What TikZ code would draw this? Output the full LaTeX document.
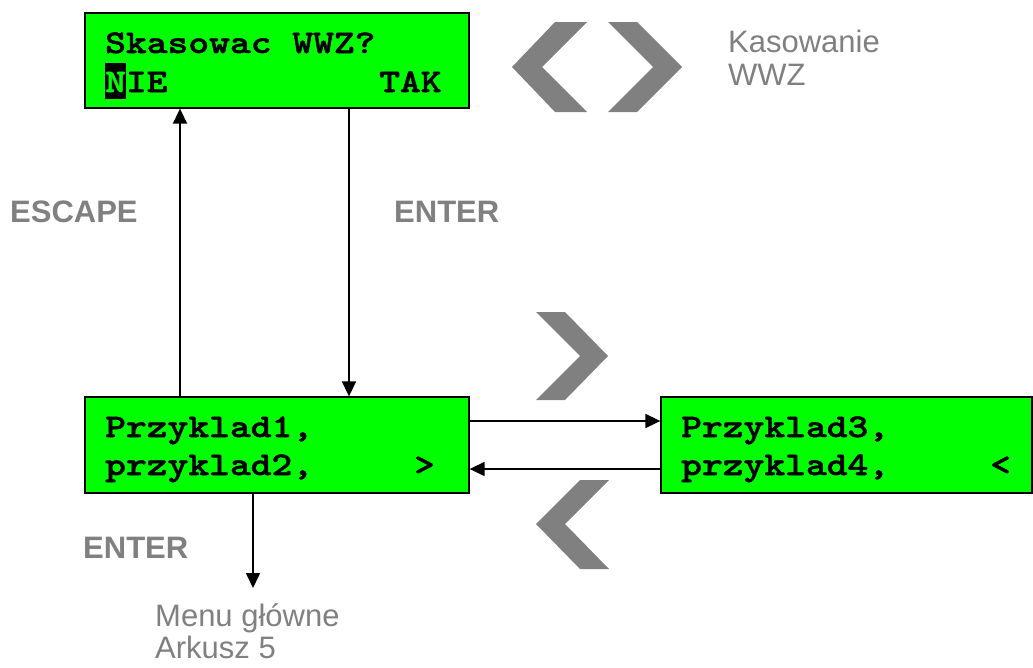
\documentclass[tikz,border=0pt]{standalone}
\usepackage{fontspec}
\setmainfont{Liberation Sans}
\newfontfamily\lcdfont{lmmonolt10-bold.otf}[FakeStretch=1.2,FakeBold=1.5]
\usetikzlibrary{arrows.meta}
\definecolor{lcd}{HTML}{00FF00}
\definecolor{grey}{HTML}{808080}
\begin{document}
\begin{tikzpicture}[x=1pt,y=-1pt,
  lcdbox/.style={draw=black,line width=1.3pt,fill=lcd,rectangle,inner sep=0pt},
  lcdtxt/.style={inner sep=0pt,anchor=base west,font=\lcdfont\fontsize{33}{40}\selectfont},
  conn/.style={line width=1.6pt,-{Triangle[length=15pt,width=14pt]}},
  glabel/.style={inner sep=0pt,anchor=base west,text=grey,font=\fontsize{31}{33}\selectfont},
  blabel/.style={inner sep=0pt,anchor=base west,text=grey,font=\bfseries\fontsize{31}{33}\selectfont},
  chev/.style={fill=grey,draw=none}]
\useasboundingbox (0,0) rectangle (1033,667);

% boxes
\node[lcdbox,minimum width=384pt,minimum height=95pt] (top) at (277,60.5) {};
\node[lcdbox,minimum width=384pt,minimum height=96pt] (left) at (277,445) {};
\node[lcdbox,minimum width=371pt,minimum height=96pt] (right) at (846.5,445) {};

% box texts
\node[lcdtxt] (t1) at (105,53) {Skasowac WWZ?};
\fill[black] (105,63) rectangle (126,99);
\node[lcdtxt,text=lcd] (tn) at (105,92) {N};
\node[lcdtxt] (tie) at (125.8,92) {IE};
\node[lcdtxt] (tak) at (379,92) {TAK};

\node[lcdtxt] (l1) at (105,437) {Przyklad1,};
\node[lcdtxt] (l2) at (105,475) {przyklad2,};
\node[lcdtxt] (lgt) at (414,475) {>};

\node[lcdtxt] (r1) at (681,437) {Przyklad3,};
\node[lcdtxt] (r2) at (681,475) {przyklad4,};
\node[lcdtxt] (rlt) at (990,475) {<};

% connectors
\coordinate (menu) at (253,588);
\draw[conn] ([xshift=-97pt]left.north) -- ([xshift=-97pt]top.south);
\draw[conn] ([xshift=72pt]top.south) -- ([xshift=72pt]left.north);
\draw[conn] ([yshift=24pt]left.east) -- ([yshift=24pt]right.west);
\draw[conn] ([yshift=-24pt]right.west) -- ([yshift=-24pt]left.east);
\draw[conn] ([xshift=-24pt]left.south) -- (menu);

% labels
\node[blabel] (esc) at (10,222) {ESCAPE};
\node[blabel] (ent1) at (394,222) {ENTER};
\node[blabel] (ent2) at (83,558) {ENTER};
\node[glabel] (kas) at (728,52) {Kasowanie};
\node[glabel] (wwz) at (728,85) {WWZ};
\node[glabel] (mg) at (155,626) {Menu główne};
\node[glabel] (ark) at (155,658) {Arkusz 5};

% chevrons
\fill[chev] (512,67) -- (555,22) -- (587,22) -- (542,67) -- (587,112) -- (555,112) -- cycle;
\fill[chev] (608,22) -- (637,22) -- (682,67) -- (637,112) -- (608,112) -- (653,67) -- cycle;
\fill[chev] (536,312) -- (565,312) -- (608,356) -- (565,400) -- (536,400) -- (580,356) -- cycle;
\fill[chev] (609,480) -- (580,480) -- (536,524) -- (580,569) -- (609,569) -- (565,524) -- cycle;
\end{tikzpicture}
\end{document}
